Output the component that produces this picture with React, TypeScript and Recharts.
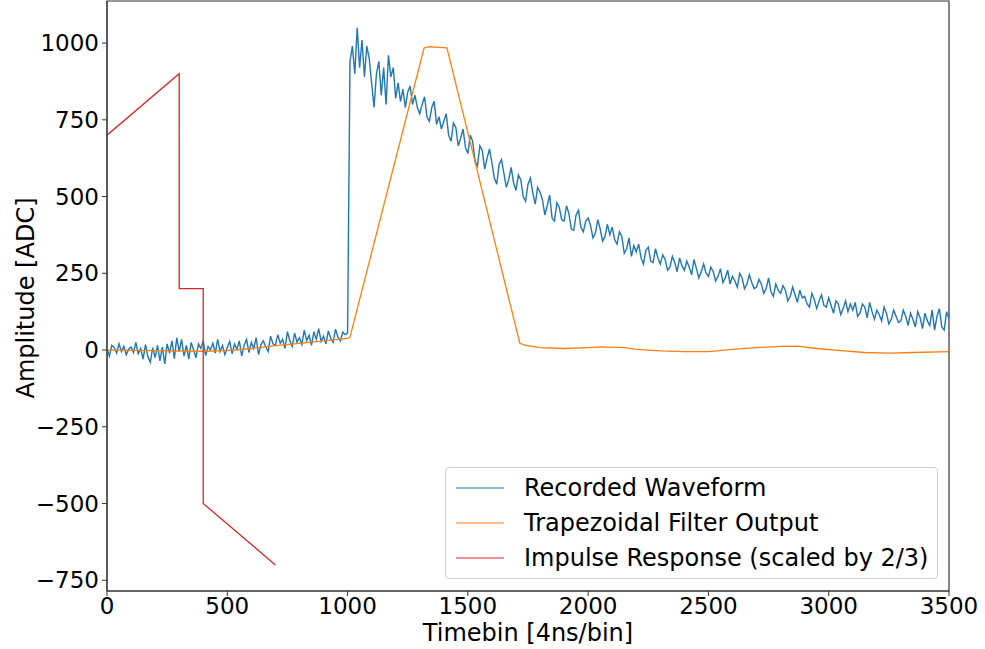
import { LineChart, Line, XAxis, YAxis, ReferenceArea } from 'recharts';

// recorded waveform, one sample every 10 timebins starting at 0
const waveStep = 10;
const waveValues = [
  5, -20, 15, 8, -10, 20, -5, 12, -15, 3,
  10, -8, 25, -12, 5, -30, 18, -22, -40, 8,
  -25, 15, -35, 10, -45, 20, -10, 30, -28, 40,
  -5, 35, -20, 15, -30, 25, 0, -25, 20, 5,
  30, -18, 12, 0, 22, -10, 35, -5, 15, -15,
  8, 28, -12, 20, 2, 30, -20, 15, 35, -8,
  25, 5, 40, -15, 18, 30, 10, -5, 45, 20,
  15, 50, 22, 35, 5, 60, 30, 12, 55, 25,
  40, 18, 65, 30, 48, 15, 60, 35, 70, 28,
  45, 20, 62, 38, 25, 68, 42, 30, 58, 50,
  55, 940, 990, 900, 1050, 920, 1010, 890, 990, 950,
  870, 790, 900, 940, 830, 920, 800, 960, 890, 920,
  820, 870, 810, 850, 790, 840, 860, 800, 830, 790,
  770, 800, 825, 760, 745, 790, 810, 735, 760, 720,
  745, 770, 700, 680, 740, 725, 665, 690, 720, 660,
  640, 700, 680, 615, 600, 665, 650, 590, 625, 655,
  610, 560, 540, 605, 620, 575, 530, 555, 595, 545,
  520, 570, 555, 500, 485, 540, 560, 510, 475, 530,
  515, 490, 440, 470, 505, 430, 420, 480, 465, 425,
  420, 470, 445, 395, 390, 440, 455, 400, 385, 420,
  430, 405, 365, 380, 425, 395, 355, 370, 410, 375,
  400, 360, 345, 385, 370, 315, 330, 365, 305, 340,
  320, 345, 300, 280, 325, 335, 290, 285, 330, 300,
  280, 310, 295, 260, 270, 305, 285, 255, 300, 275,
  260, 290, 270, 245, 295, 265, 235, 255, 280, 250,
  240, 270, 255, 225, 240, 265, 220, 235, 260, 215,
  240, 225, 205, 250, 235, 200, 215, 245, 220, 200,
  205, 230, 215, 185, 200, 235, 190, 175, 215, 195,
  185, 210, 195, 160, 175, 205, 180, 155, 195, 170,
  175, 150, 140, 185, 165, 135, 160, 180, 145, 140,
  170, 145, 120, 160, 150, 115, 135, 160, 125, 150,
  130, 155, 110, 120, 150, 140, 105, 155, 125, 100,
  130, 115, 95, 140, 120, 85, 100, 130, 110, 90,
  95, 130, 110, 80, 120, 100, 75, 125, 105, 70,
  120, 95, 80, 130, 65, 110, 135, 75, 65, 125,
  100,
];

// trapezoidal filter output, key points
const trapX = [0, 200, 400, 500, 600, 700, 800, 900, 1000, 1010, 1318, 1340, 1380, 1413, 1716, 1740, 1800, 1900, 2000, 2050, 2150, 2200, 2300, 2400, 2500, 2600, 2700, 2800, 2870, 2950, 3050, 3150, 3250, 3350, 3500];
const trapY = [0, -2, -4, -2, 5, 14, 22, 30, 38, 42, 984, 988, 986, 984, 22, 15, 8, 5, 8, 10, 8, 2, -3, -5, -5, 2, 8, 12, 13, 5, -2, -8, -10, -8, -5];

// impulse response (scaled by 2/3)
const impulseX = [0, 300, 300, 400, 400, 700];
const impulseY = [700, 900, 200, 200, -500, -700];

const xTicks = [0, 500, 1000, 1500, 2000, 2500, 3000, 3500];
const yTicks = [-750, -500, -250, 0, 250, 500, 750, 1000];

const seriesNames = ['Recorded Waveform', 'Trapezoidal Filter Output', 'Impulse Response (scaled by 2/3)'];
const seriesColors = ['#1f77b4', '#ff7f0e', '#d62728'];

const waveData = waveValues.map((y, i) => ({ x: i * waveStep, y }));
const trapData = trapX.map((x, i) => ({ x, y: trapY[i] }));
const impulseData = impulseX.map((x, i) => ({ x, y: impulseY[i] }));

const font = '"DejaVu Sans", sans-serif';
const yMin = -785;
const yMax = 1137;

const fmtY = (v: number) => (v < 0 ? `\u2212${-v}` : `${v}`);

function LegendBox() {
  return (
    <div
      style={{
        position: 'absolute',
        left: 445,
        top: 467,
        width: 491,
        height: 110,
        border: '1px solid #d0d0d0',
        borderRadius: 4,
        background: 'rgba(255,255,255,0.8)',
        fontFamily: font,
        fontSize: 24,
        color: '#000',
      }}
    >
      {seriesNames.map((name, i) => (
        <div key={name} style={{ position: 'absolute', left: 0, top: 4 + i * 35, height: 32, display: 'flex', alignItems: 'center' }}>
          <svg width={48} height={4} style={{ marginLeft: 10, marginRight: 20 }}>
            <line x1={0} x2={48} y1={2} y2={2} stroke={seriesColors[i]} strokeWidth={1.2} />
          </svg>
          <span style={{ whiteSpace: 'nowrap' }}>{name}</span>
        </div>
      ))}
    </div>
  );
}

const yLabel = () => (
  <text x={26} y={298} transform="rotate(-90 26 298)" textAnchor="middle" dominantBaseline="central" fontSize={24} fill="#000" fontFamily={font}>
    Amplitude [ADC]
  </text>
);

export default function App() {
  return (
    <div style={{ position: 'absolute', left: 0, top: 0, width: 985, height: 649, background: '#fff' }}>
      <LineChart width={985} height={649} margin={{ top: 1, right: 36, left: 27, bottom: 28 }}>
        <XAxis
          type="number"
          dataKey="x"
          domain={[0, 3500]}
          ticks={xTicks}
          allowDataOverflow
          height={30}
          tickSize={5}
          tickMargin={2}
          tick={{ fontSize: 23, fill: '#000', fontFamily: font }}
          stroke="#333"
          label={{ value: 'Timebin [4ns/bin]', position: 'insideBottom', offset: -20, fontSize: 24, fill: '#000', fontFamily: font }}
        />
        <YAxis
          type="number"
          dataKey="y"
          domain={[yMin, yMax]}
          ticks={yTicks}
          allowDataOverflow
          width={80}
          tickSize={5}
          tickMargin={3}
          tickFormatter={fmtY}
          tick={{ fontSize: 23, fill: '#000', fontFamily: font }}
          stroke="#333"
          label={{ content: yLabel }}
        />
        <ReferenceArea x1={0} x2={3500} y1={yMin} y2={yMax} fill="none" stroke="#333" strokeWidth={1.2} />
        <Line data={waveData} dataKey="y" type="linear" stroke={seriesColors[0]} strokeWidth={1.4} dot={false} isAnimationActive={false} name={seriesNames[0]} />
        <Line data={trapData} dataKey="y" type="linear" stroke={seriesColors[1]} strokeWidth={1.3} dot={false} isAnimationActive={false} name={seriesNames[1]} />
        <Line data={impulseData} dataKey="y" type="linear" stroke={seriesColors[2]} strokeWidth={1.3} dot={false} isAnimationActive={false} name={seriesNames[2]} />
      </LineChart>
      <LegendBox />
    </div>
  );
}
